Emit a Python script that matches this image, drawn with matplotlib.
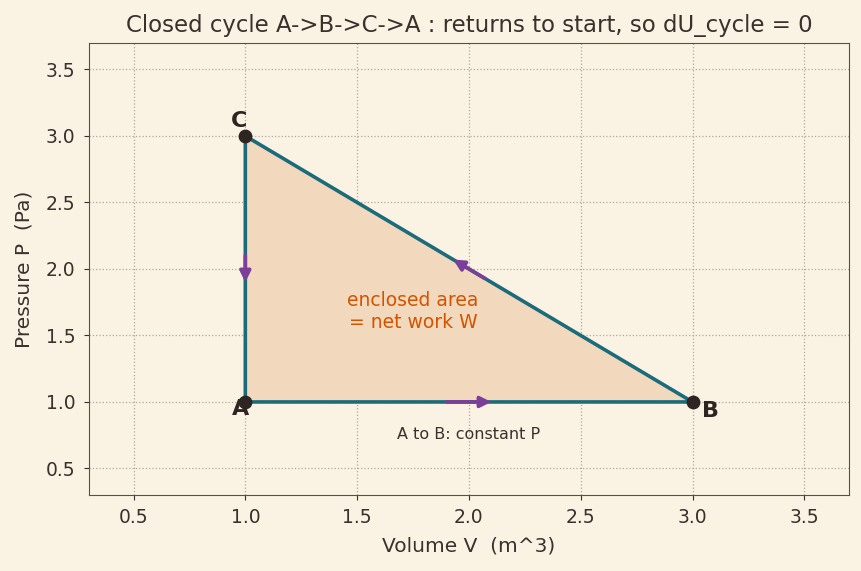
import matplotlib.pyplot as plt
import numpy as np

# cycle corners (V in m^3, P in Pa)
labels = ['A', 'B', 'C']
V = [1.0, 3.0, 1.0]
P = [1.0, 1.0, 3.0]

bg = '#faf3e3'
ink = '#3a302c'

fig = plt.figure(figsize=(8.62, 5.71), dpi=100, facecolor=bg)
ax = fig.add_axes([0.103, 0.133, 0.882, 0.792])
ax.set_facecolor(bg)

Vc = V + [V[0]]
Pc = P + [P[0]]
ax.fill(V, P, color='#f2d8bc', zorder=1)
ax.plot(Vc, Pc, color='#1b6b7b', lw=2.6, zorder=3)
ax.scatter(V, P, s=80, color='#2e2522', zorder=5)

# direction arrows at each leg's midpoint
purple = '#7b3f9a'
for i in range(3):
    j = (i + 1) % 3
    mv, mp = (V[i] + V[j]) / 2, (P[i] + P[j]) / 2
    dv, dp = (V[j] - V[i]), (P[j] - P[i])
    L = np.hypot(dv, dp)
    s = 0.1 / L
    ax.annotate('', xy=(mv + dv * s, mp + dp * s), xytext=(mv - dv * s, mp - dp * s),
                arrowprops=dict(arrowstyle='-|>', color=purple, lw=2.6,
                                mutation_scale=16, shrinkA=0, shrinkB=0), zorder=4)

offsets = {'A': (-0.02, -0.05), 'B': (0.08, -0.07), 'C': (-0.03, 0.11)}
for lab, v, p in zip(labels, V, P):
    dx, dy = offsets[lab]
    ax.text(v + dx, p + dy, lab, fontsize=16, fontweight='bold', color='#2e2522',
            ha='center', va='center', zorder=6)

ax.text(1.75, 1.68, 'enclosed area\n= net work W', color='#d35400', fontsize=13.5,
        ha='center', va='center', linespacing=1.15)
ax.text(2.0, 0.755, 'A to B: constant P', color=ink, fontsize=11.5,
        ha='center', va='center')

ax.set_xlim(0.3, 3.7)
ax.set_ylim(0.3, 3.7)
ax.set_xticks(np.arange(0.5, 3.51, 0.5))
ax.set_yticks(np.arange(0.5, 3.51, 0.5))
ax.grid(True, linestyle=':', color='#b0a89e', lw=0.9)
ax.set_axisbelow(True)
ax.tick_params(labelsize=13.5, colors=ink, pad=6)
for s in ax.spines.values():
    s.set_color('#5a4f48')

ax.set_xlabel('Volume V  (m^3)', fontsize=14.5, color=ink, labelpad=7)
ax.set_ylabel('Pressure P  (Pa)', fontsize=14.5, color=ink, labelpad=9)
ax.set_title('Closed cycle A->B->C->A : returns to start, so dU_cycle = 0',
             fontsize=16.5, color=ink, pad=8)

plt.savefig('out.png', facecolor=bg)
